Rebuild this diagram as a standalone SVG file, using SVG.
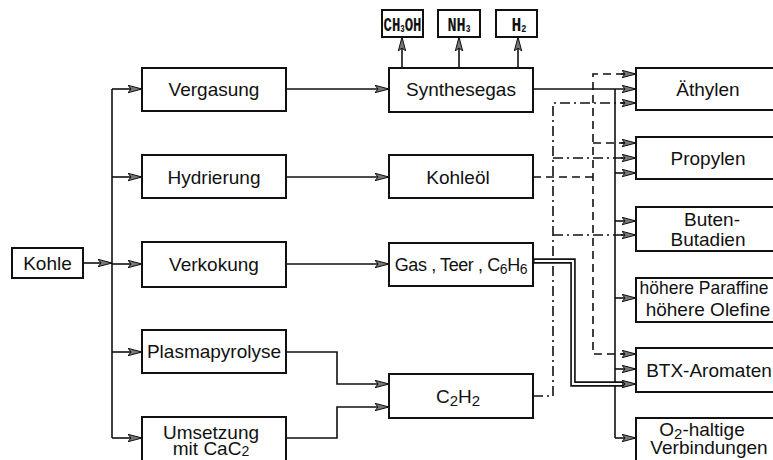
<svg xmlns="http://www.w3.org/2000/svg" width="773" height="460" viewBox="0 0 773 460">
<style>
.box{fill:#fff;stroke:#111;stroke-width:2}
.t{font-family:"Liberation Sans",Arial,sans-serif;font-size:19px;fill:#111;text-anchor:middle}
.m{font-family:"Liberation Mono","DejaVu Sans Mono",monospace;font-weight:bold;font-size:21px;fill:#111;text-anchor:middle}
.ln{fill:none;stroke:#111;stroke-width:1.6}
.ar{marker-end:url(#ah)}
.dash{stroke-dasharray:8 5}
.dd{stroke-dasharray:10 4 2 4}
</style>
<defs>
<marker id="ah" viewBox="0 0 14 9" refX="14" refY="4.5" markerWidth="14" markerHeight="9" markerUnits="userSpaceOnUse" orient="auto">
<path d="M0,0.8 L14,4.5 L0,8.2 L3,4.5 Z" fill="#777" stroke="#111" stroke-width="1"/>
</marker>
</defs>
<rect width="773" height="460" fill="#fff"/>

<g id="connectors">
<!-- left trunk -->
<path class="ln ar" d="M83,263 H112"/>
<path class="ln" d="M112,89 V438"/>
<path class="ln ar" d="M112,89 H142"/>
<path class="ln ar" d="M112,177 H142"/>
<path class="ln ar" d="M112,264 H142"/>
<path class="ln ar" d="M112,352 H142"/>
<path class="ln ar" d="M112,438 H142"/>
<!-- middle -->
<path class="ln ar" d="M286,89 H389"/>
<path class="ln ar" d="M286,177 H389"/>
<path class="ln ar" d="M286,264 H389"/>
<path class="ln ar" d="M286,352 H337 V384 H389"/>
<path class="ln ar" d="M286,438 H337 V407 H389"/>
<!-- top -->
<path class="ln ar" d="M402,68 V37"/>
<path class="ln ar" d="M459,68 V37"/>
<path class="ln ar" d="M518,68 V37"/>
<!-- solid from Synthesegas -->
<path class="ln ar" d="M533,89 H636"/>
<path class="ln" d="M615,89 V438"/>
<path class="ln ar" d="M615,173 H636"/>
<path class="ln ar" d="M615,221 H636"/>
<path class="ln ar" d="M615,298 H636"/>
<path class="ln ar" d="M615,369 H636"/>
<path class="ln ar" d="M615,438 H636"/>
<!-- dashed from Kohleoel -->
<path class="ln dash" d="M533,177 H593"/>
<path class="ln dash" d="M624,74 H593 V354 H624"/>
<path class="ln ar" d="M621,74 H636"/>
<path class="ln dash" d="M593,143 H624"/>
<path class="ln ar" d="M621,143 H636"/>
<path class="ln ar" d="M621,354 H636"/>
<!-- dash-dot from C2H2 -->
<path class="ln dd" d="M533,396 H553 V103 H624"/>
<path class="ln ar" d="M621,103 H636"/>
<path class="ln dd" d="M553,158 H624"/>
<path class="ln ar" d="M621,158 H636"/>
<path class="ln dd" d="M553,235 H624"/>
<path class="ln ar" d="M621,235 H636"/>
<!-- double line from Gas, Teer, C6H6 -->
<path d="M533,261 H573 V384 H626" fill="none" stroke="#111" stroke-width="5.5"/>
<path d="M534.5,261 H573 V384 H627" fill="none" stroke="#fff" stroke-width="2.2"/>
<path class="ln ar" d="M622,384 H636"/>
</g>

<g id="kohle"><rect class="box" x="12" y="248" width="71" height="30"/><text class="t" x="47.5" y="269.5">Kohle</text></g>

<g id="vergasung"><rect class="box" x="142" y="68" width="144" height="43"/><text class="t" x="214" y="96">Vergasung</text></g>
<g id="hydrierung"><rect class="box" x="142" y="155" width="144" height="43"/><text class="t" x="214" y="183.5">Hydrierung</text></g>
<g id="verkokung"><rect class="box" x="142" y="242" width="144" height="45"/><text class="t" x="214" y="271">Verkokung</text></g>
<g id="plasmapyrolyse"><rect class="box" x="142" y="330" width="144" height="43"/><text class="t" x="214" y="358">Plasmapyrolyse</text></g>
<g id="umsetzung"><rect class="box" x="142" y="417" width="144" height="60"/><text class="t" x="211" y="439">Umsetzung</text><text class="t" x="211" y="455">mit CaC<tspan font-size="14" dy="1">2</tspan></text></g>

<g id="synthesegas"><rect class="box" x="389" y="68" width="144" height="44"/><text class="t" x="461" y="96">Synthesegas</text></g>
<g id="kohleoel"><rect class="box" x="389" y="155" width="144" height="43"/><text class="t" x="458" y="183.5">Kohleöl</text></g>
<g id="gas-teer"><rect class="box" x="389" y="243" width="144" height="43"/><text class="t" x="461" y="271" style="font-size:18px;letter-spacing:-0.4px">Gas , Teer , C<tspan font-size="14" dy="3">6</tspan><tspan dy="-3">H</tspan><tspan font-size="14" dy="3">6</tspan></text></g>
<g id="c2h2"><rect class="box" x="389" y="374" width="144" height="44"/><text class="t" x="458" y="402.5">C<tspan font-size="15" dy="3">2</tspan><tspan dy="-3">H</tspan><tspan font-size="15" dy="3">2</tspan></text></g>

<g id="ch3oh"><rect class="box" x="382" y="10" width="41" height="27"/><text class="m" x="402.5" y="31" textLength="38" lengthAdjust="spacingAndGlyphs">CH<tspan font-size="11" dy="1">3</tspan><tspan dy="-1">OH</tspan></text></g>
<g id="nh3"><rect class="box" x="438" y="10" width="42" height="27"/><text class="m" x="459" y="31" textLength="23" lengthAdjust="spacingAndGlyphs">NH<tspan font-size="11" dy="1">3</tspan></text></g>
<g id="h2"><rect class="box" x="496" y="10" width="41" height="27"/><text class="m" x="519" y="31" textLength="15" lengthAdjust="spacingAndGlyphs">H<tspan font-size="11" dy="1">2</tspan></text></g>

<g id="aethylen"><rect class="box" x="636" y="68" width="146" height="42"/><text class="t" x="708" y="95.5">Äthylen</text></g>
<g id="propylen"><rect class="box" x="636" y="137" width="146" height="42"/><text class="t" x="708" y="164.5">Propylen</text></g>
<g id="buten"><rect class="box" x="636" y="207" width="146" height="44"/><text class="t" x="712" y="226">Buten-</text><text class="t" x="708" y="246">Butadien</text></g>
<g id="hoehere"><rect class="box" x="636" y="278" width="146" height="44"/><text class="t" x="704" y="294" textLength="129" lengthAdjust="spacingAndGlyphs">höhere Paraffine</text><text class="t" x="708" y="316">höhere Olefine</text></g>
<g id="btx"><rect class="box" x="636" y="348" width="146" height="44"/><text class="t" x="709" y="376.5">BTX-Aromaten</text></g>
<g id="o2"><rect class="box" x="636" y="418" width="146" height="60"/><text class="t" x="702" y="436">O<tspan font-size="15" dy="3">2</tspan><tspan dy="-3">-haltige</tspan></text><text class="t" x="709" y="454">Verbindungen</text></g>
</svg>
